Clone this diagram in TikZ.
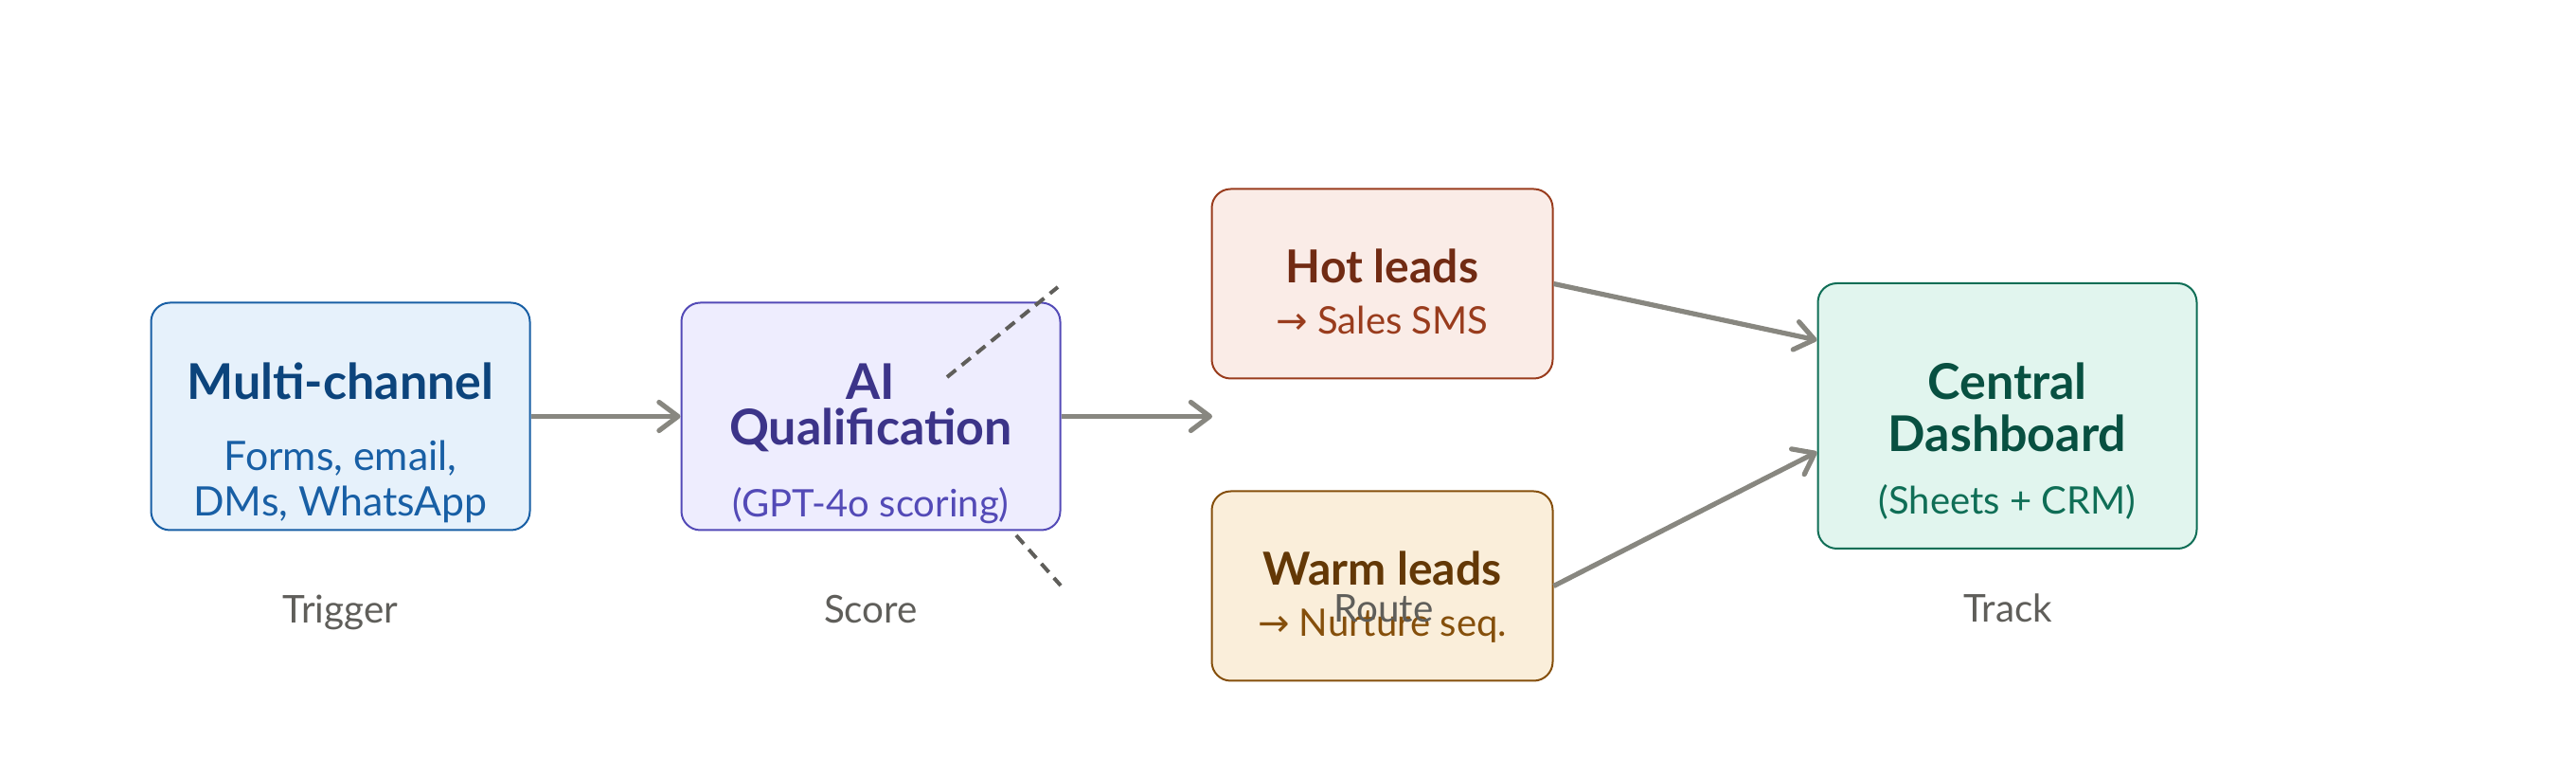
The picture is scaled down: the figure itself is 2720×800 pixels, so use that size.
\documentclass[tikz,border=0pt]{standalone}
\usepackage{fontspec}
\setmainfont{Lato}
\newfontfamily\arrowfont{DejaVu Sans}
\usepackage{tikz}
\usetikzlibrary{positioning,arrows.meta}

\definecolor{bluefill}{HTML}{E6F1FB}
\definecolor{blueline}{HTML}{185FA5}
\definecolor{bluetitle}{HTML}{0C447C}
\definecolor{purplefill}{HTML}{EEEDFE}
\definecolor{purpleline}{HTML}{534AB7}
\definecolor{purpletitle}{HTML}{3C3489}
\definecolor{redfill}{HTML}{FAECE7}
\definecolor{redline}{HTML}{993C1D}
\definecolor{redtitle}{HTML}{712B13}
\definecolor{orangefill}{HTML}{FAEEDA}
\definecolor{orangeline}{HTML}{854F0B}
\definecolor{orangetitle}{HTML}{633806}
\definecolor{greenfill}{HTML}{E1F5EE}
\definecolor{greenline}{HTML}{0F6E56}
\definecolor{greentitle}{HTML}{085041}
\definecolor{flowgray}{HTML}{888780}
\definecolor{hintgray}{HTML}{5F5E5A}

\begin{document}
\begin{tikzpicture}
        [
            x=0.25pt, y=-0.25pt,
            box/.style={rectangle, rounded corners=5pt, line width=0.5pt, inner sep=0pt},
            bluenode/.style={box, draw=blueline, fill=bluefill, minimum width=100pt, minimum height=60pt},
            purplenode/.style={box, draw=purpleline, fill=purplefill, minimum width=100pt, minimum height=60pt},
            rednode/.style={box, draw=redline, fill=redfill, minimum width=90pt, minimum height=50pt},
            orangenode/.style={box, draw=orangeline, fill=orangefill, minimum width=90pt, minimum height=50pt},
            greennode/.style={box, draw=greenline, fill=greenfill, minimum width=100pt, minimum height=70pt},
            title/.style={anchor=base, inner sep=0pt, font=\fontsize{13}{15}\selectfont\bfseries},
            smalltitle/.style={anchor=base, inner sep=0pt, font=\fontsize{12}{14}\selectfont\bfseries},
            sub/.style={anchor=base, inner sep=0pt, font=\fontsize{10}{12}\selectfont},
            bigsub/.style={anchor=base, inner sep=0pt, font=\fontsize{10.7}{12}\selectfont},
            stage/.style={anchor=base, inner sep=0pt, text=hintgray, font=\fontsize{10.1}{12}\selectfont},
            flow/.style={draw=flowgray, line width=1.3pt, -{Straight Barb[length=5pt, width=7.5pt, round]}},
            hint/.style={draw=hintgray, line width=1pt, dash pattern=on 3pt off 2pt},
        ]
        \useasboundingbox (0,0) rectangle (2720,800);

        %Caixas
        \node[bluenode]         (multi)     at (359.5,439.5)    {};
        \node[purplenode]       (ai)        at (919.5,439.5)    {};
        \node[rednode]          (hot)       at (1459.5,299.5)   {};
        \node[orangenode]       (warm)      at (1459.5,618.5)   {};
        \node[greennode]        (dash)      at (2119.5,439)     {};
        \coordinate             (routein)   at (1280,439.5);

        %Textos
        \node[title, text=bluetitle]        (multia)    at (359.5,422)  {Multi-channel};
        \node[bigsub, text=blueline]        (multib)    at (359.5,497)  {Forms, email,};
        \node[bigsub, text=blueline]        (multic)    at (359.5,545)  {DMs, WhatsApp};
        \node[title, text=purpletitle]      (aia)       at (919.5,422)  {AI};
        \node[title, text=purpletitle]      (aib)       at (919.5,470)  {Qualification};
        \node[sub, text=purpleline]         (aic)       at (919.5,546)  {(GPT-4o scoring)};
        \node[smalltitle, text=redtitle]    (hota)      at (1459.5,299) {Hot leads};
        \node[sub, text=redline]            (hotb)      at (1459.5,353) {{\arrowfont →} Sales SMS};
        \node[smalltitle, text=orangetitle] (warma)     at (1459.5,618) {Warm leads};
        \node[sub, text=orangeline]         (warmb)     at (1459.5,672) {{\arrowfont →} Nurture seq.};
        \node[title, text=greentitle]       (dasha)     at (2119.5,422) {Central};
        \node[title, text=greentitle]       (dashb)     at (2119.5,477) {Dashboard};
        \node[sub, text=greenline]          (dashc)     at (2119.5,543) {(Sheets + CRM)};

        %Etapas
        \node[stage]    (trigger)   at (359.5,658)  {Trigger};
        \node[stage]    (score)     at (919.5,658)  {Score};
        \node[stage]    (route)     at (1461,657)   {Route};
        \node[stage]    (track)     at (2120,657)   {Track};

        %Linhas
        \draw[flow] (multi.east) -- (ai.west);
        \draw[flow] (ai.east) -- (routein);
        \draw[flow] (hot.east) -- ([yshift=20pt]dash.west);
        \draw[flow] (warm.east) -- ([yshift=-9.5pt]dash.west);

        \coordinate (hinta) at (1000,398);
        \coordinate (hintb) at (1117,303);
        \coordinate (hintc) at (1073,565);
        \coordinate (hintd) at (1120,618);
        \draw[hint] (hinta) -- (hintb);
        \draw[hint] (hintc) -- (hintd);
    \end{tikzpicture}
\end{document}
